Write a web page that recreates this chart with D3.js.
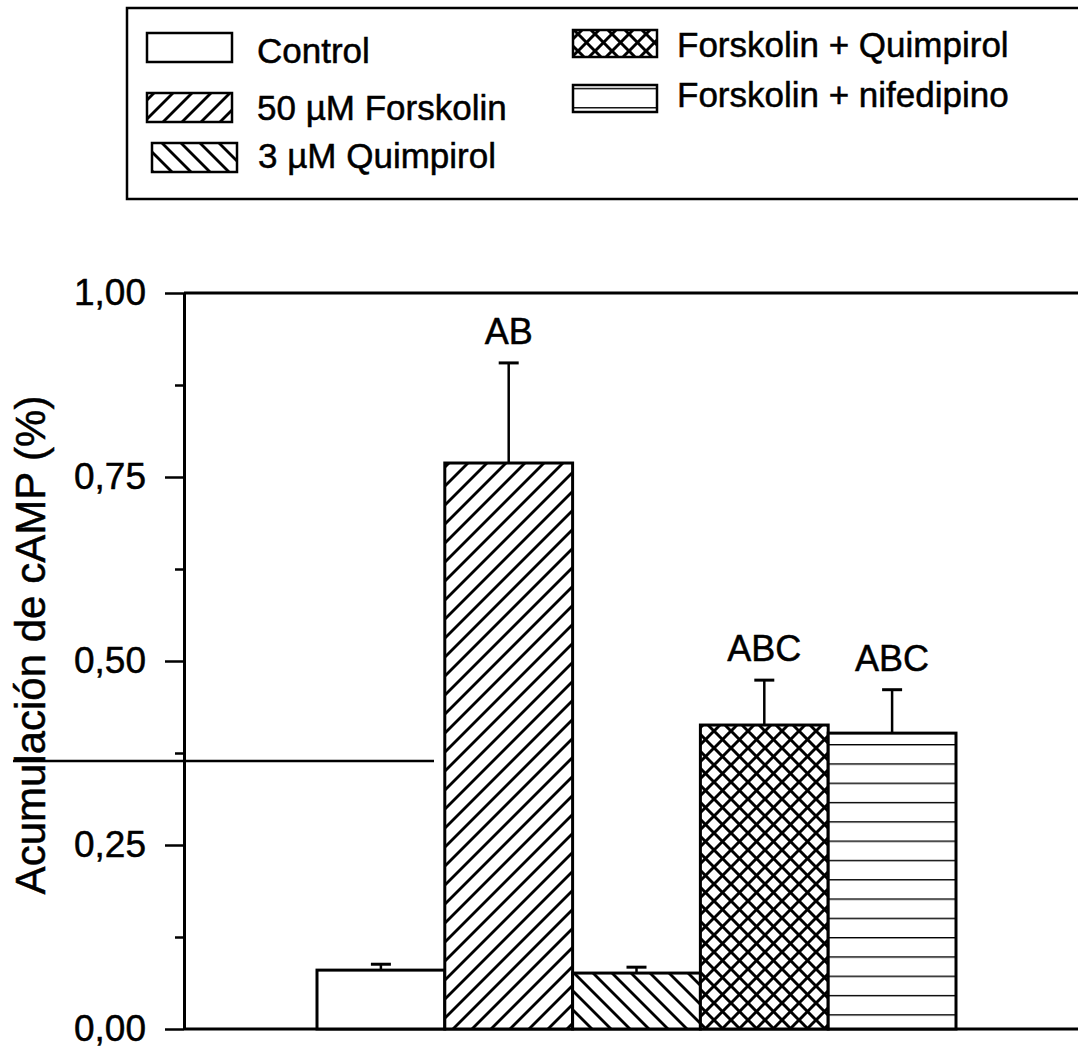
<!DOCTYPE html>
<html>
<head>
<meta charset="utf-8">
<script src="https://cdn.jsdelivr.net/npm/d3@7"></script>
<style>
  html, body { margin: 0; padding: 0; background: #fff; }
  svg { display: block; font-family: "Liberation Sans", Arial, Helvetica, sans-serif; }
  text { stroke: #000; stroke-width: 0.5px; }
</style>
</head>
<body>
<svg id="chart" width="1078" height="1051"></svg>
<script>
// data
var categories = ["Control", "50 µM Forskolin", "3 µM Quimpirol", "Forskolin + Quimpirol", "Forskolin + nifedipino"];
var means = [0.080, 0.769, 0.076, 0.413, 0.402];
var errors = [0.008, 0.136, 0.008, 0.061, 0.059];
var letters = ["", "AB", "", "ABC", "ABC"];
var yTicks = [0, 0.25, 0.5, 0.75, 1];
var yMinorTicks = [0.125, 0.375, 0.625, 0.875];
var yLabel = "Acumulación de cAMP (%)";

var patternIds = ["none", "fwd", "back", "cross", "horiz"];

var svg = d3.select("#chart");
svg.append("rect").attr("width", 1078).attr("height", 1051).attr("fill", "#fff");

var y = d3.scaleLinear().domain([0, 1]).range([1029, 293]);
var x = d3.scaleBand().domain(categories).range([317, 956]).padding(0);
var axisX = 184;

// hatch patterns
var defs = svg.append("defs");
function hatch(id, size, paths, w) {
    var p = defs.append("pattern")
        .attr("id", id)
        .attr("patternUnits", "userSpaceOnUse")
        .attr("width", size).attr("height", size);
    p.append("rect").attr("width", size).attr("height", size).attr("fill", "#fff");
    paths.forEach(function (d) {
        p.append("path").attr("d", d).attr("stroke", "#000")
            .attr("stroke-width", w).attr("fill", "none").attr("stroke-linecap", "square");
    });
}
var s1 = 19;
hatch("fwd", s1, ["M0," + s1 + "L" + s1 + ",0", "M-2,2L2,-2", "M" + (s1 - 2) + "," + (s1 + 2) + "L" + (s1 + 2) + "," + (s1 - 2)], 2.8);
hatch("back", s1, ["M0,0L" + s1 + "," + s1, "M-2," + (s1 - 2) + "L2," + (s1 + 2), "M" + (s1 - 2) + ",-2L" + (s1 + 2) + ",2"], 2.8);
var s2 = 17;
hatch("cross", s2, ["M0," + s2 + "L" + s2 + ",0", "M0,0L" + s2 + "," + s2,
    "M-2,2L2,-2", "M" + (s2 - 2) + "," + (s2 + 2) + "L" + (s2 + 2) + "," + (s2 - 2),
    "M-2," + (s2 - 2) + "L2," + (s2 + 2), "M" + (s2 - 2) + ",-2L" + (s2 + 2) + ",2"], 3);
var hp = defs.append("pattern").attr("id", "horiz").attr("patternUnits", "userSpaceOnUse")
    .attr("width", 20).attr("height", 19.3).attr("y", 744);
hp.append("rect").attr("width", 20).attr("height", 19.3).attr("fill", "#fff");
hp.append("line").attr("x1", 0).attr("x2", 20).attr("y1", 0).attr("y2", 0)
    .attr("stroke", "#000").attr("stroke-width", 2.8);

function fillFor(i) {
    return patternIds[i] === "none" ? "#fff" : "url(#" + patternIds[i] + ")";
}

// legend
var legend = svg.append("g").attr("class", "legend");
legend.append("path")
    .attr("d", "M1080,8H127V199H1080")
    .attr("fill", "none").attr("stroke", "#000").attr("stroke-width", 2.5);
var legendPos = [
    { sx: 147, sy: 33, sw: 85, sh: 29, tx: 257, ty: 63 },
    { sx: 147, sy: 93, sw: 85, sh: 29, tx: 257, ty: 120 },
    { sx: 152, sy: 143, sw: 85, sh: 29, tx: 258, ty: 168 },
    { sx: 573, sy: 30, sw: 84, sh: 27, tx: 677, ty: 57 },
    { sx: 573, sy: 85, sw: 84, sh: 27, tx: 677, ty: 107 }
];
var li = legend.selectAll("g.item").data(categories).enter().append("g").attr("class", "item");
li.append("rect")
    .attr("x", function (d, i) { return legendPos[i].sx; })
    .attr("y", function (d, i) { return legendPos[i].sy; })
    .attr("width", function (d, i) { return legendPos[i].sw; })
    .attr("height", function (d, i) { return legendPos[i].sh; })
    .attr("fill", function (d, i) { return fillFor(i); })
    .attr("stroke", "#000").attr("stroke-width", 2.5);
li.append("text")
    .attr("x", function (d, i) { return legendPos[i].tx; })
    .attr("y", function (d, i) { return legendPos[i].ty; })
    .attr("font-size", 35)
    .text(function (d) { return d; });

// frame lines
svg.append("line").attr("x1", axisX).attr("x2", 1078).attr("y1", y(1)).attr("y2", y(1))
    .attr("stroke", "#000").attr("stroke-width", 3);
svg.append("line").attr("x1", axisX).attr("x2", 1078).attr("y1", y(0)).attr("y2", y(0))
    .attr("stroke", "#000").attr("stroke-width", 3);

// stray horizontal line in the original
svg.append("line").attr("x1", 13).attr("x2", 434).attr("y1", 761).attr("y2", 761)
    .attr("stroke", "#000").attr("stroke-width", 2.5);

// y axis
var fmt = function (v) { return d3.format(".2f")(v).replace(".", ","); };
var yAxis = svg.append("g").attr("transform", "translate(" + axisX + ",0)")
    .call(d3.axisLeft(y).tickValues(yTicks).tickFormat(fmt).tickSize(19).tickSizeOuter(0).tickPadding(19));
yAxis.select(".domain").attr("stroke-width", 3);
yAxis.selectAll(".tick line").attr("stroke-width", 2.5);
yAxis.selectAll(".tick text").attr("font-size", 37).attr("font-family", "Liberation Sans, Arial, sans-serif").attr("fill", "#000");
svg.append("g").attr("transform", "translate(" + axisX + ",0)")
    .call(d3.axisLeft(y).tickValues(yMinorTicks).tickFormat("").tickSize(9).tickSizeOuter(0))
    .call(function (g) { g.select(".domain").remove(); })
    .selectAll(".tick line").attr("stroke-width", 2.5);

svg.append("text")
    .attr("transform", "translate(45,645) rotate(-90)")
    .attr("text-anchor", "middle")
    .attr("font-size", 42)
    .text(yLabel);

// bars
var bars = svg.append("g").attr("class", "bars");
bars.selectAll("rect").data(categories).enter().append("rect")
    .attr("x", function (d) { return x(d); })
    .attr("y", function (d, i) { return y(means[i]); })
    .attr("width", x.bandwidth())
    .attr("height", function (d, i) { return y(0) - y(means[i]); })
    .attr("fill", function (d, i) { return fillFor(i); })
    .attr("stroke", "#000").attr("stroke-width", 3);

// error bars
var eb = svg.append("g").attr("class", "errors");
var cx = function (d) { return x(d) + x.bandwidth() / 2; };
eb.selectAll("line.v").data(categories).enter().append("line").attr("class", "v")
    .attr("x1", cx).attr("x2", cx)
    .attr("y1", function (d, i) { return y(means[i]); })
    .attr("y2", function (d, i) { return y(means[i] + errors[i]); })
    .attr("stroke", "#000").attr("stroke-width", 2.5);
eb.selectAll("line.c").data(categories).enter().append("line").attr("class", "c")
    .attr("x1", function (d) { return cx(d) - 10; })
    .attr("x2", function (d) { return cx(d) + 10; })
    .attr("y1", function (d, i) { return y(means[i] + errors[i]); })
    .attr("y2", function (d, i) { return y(means[i] + errors[i]); })
    .attr("stroke", "#000").attr("stroke-width", 3);

// significance letters
svg.append("g").selectAll("text").data(categories).enter().append("text")
    .attr("x", cx)
    .attr("y", function (d, i) { return y(means[i] + errors[i]) - 19; })
    .attr("text-anchor", "middle")
    .attr("font-size", 36)
    .text(function (d, i) { return letters[i]; });
</script>
</body>
</html>
